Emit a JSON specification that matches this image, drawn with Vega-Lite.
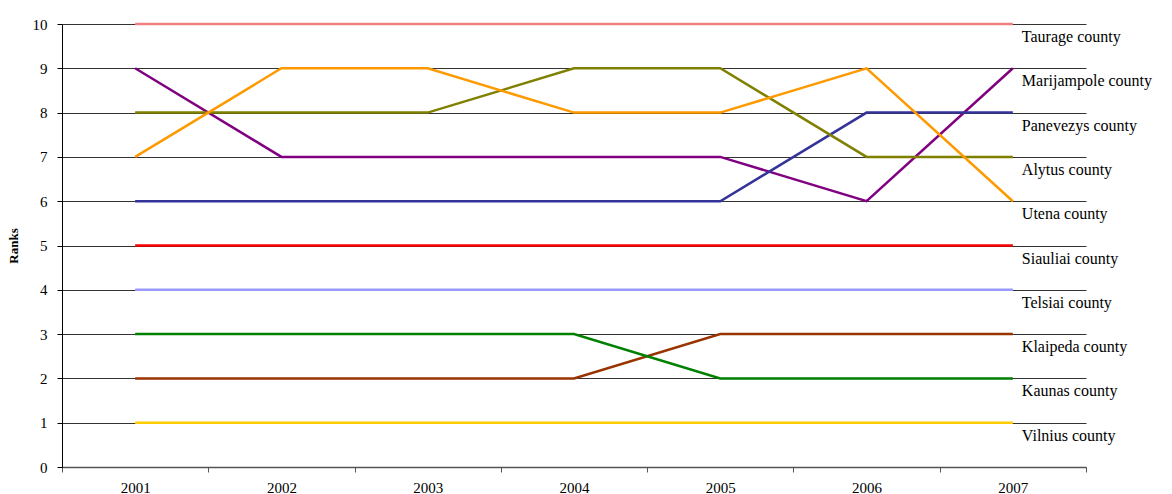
{
  "$schema": "https://vega.github.io/schema/vega-lite/v6.json",
  "autosize": "none",
  "width": 1024,
  "height": 443,
  "padding": {"left": 62, "top": 24, "right": 86, "bottom": 27},
  "background": "white",
  "config": {
    "view": {"stroke": null},
    "font": "Liberation Serif"
  },
  "data": {
    "values": [
      {"county": "Taurage county", "year": "2001", "rank": 10},
      {"county": "Taurage county", "year": "2002", "rank": 10},
      {"county": "Taurage county", "year": "2003", "rank": 10},
      {"county": "Taurage county", "year": "2004", "rank": 10},
      {"county": "Taurage county", "year": "2005", "rank": 10},
      {"county": "Taurage county", "year": "2006", "rank": 10},
      {"county": "Taurage county", "year": "2007", "rank": 10},
      {"county": "Marijampole county", "year": "2001", "rank": 9},
      {"county": "Marijampole county", "year": "2002", "rank": 7},
      {"county": "Marijampole county", "year": "2003", "rank": 7},
      {"county": "Marijampole county", "year": "2004", "rank": 7},
      {"county": "Marijampole county", "year": "2005", "rank": 7},
      {"county": "Marijampole county", "year": "2006", "rank": 6},
      {"county": "Marijampole county", "year": "2007", "rank": 9},
      {"county": "Panevezys county", "year": "2001", "rank": 6},
      {"county": "Panevezys county", "year": "2002", "rank": 6},
      {"county": "Panevezys county", "year": "2003", "rank": 6},
      {"county": "Panevezys county", "year": "2004", "rank": 6},
      {"county": "Panevezys county", "year": "2005", "rank": 6},
      {"county": "Panevezys county", "year": "2006", "rank": 8},
      {"county": "Panevezys county", "year": "2007", "rank": 8},
      {"county": "Alytus county", "year": "2001", "rank": 8},
      {"county": "Alytus county", "year": "2002", "rank": 8},
      {"county": "Alytus county", "year": "2003", "rank": 8},
      {"county": "Alytus county", "year": "2004", "rank": 9},
      {"county": "Alytus county", "year": "2005", "rank": 9},
      {"county": "Alytus county", "year": "2006", "rank": 7},
      {"county": "Alytus county", "year": "2007", "rank": 7},
      {"county": "Utena county", "year": "2001", "rank": 7},
      {"county": "Utena county", "year": "2002", "rank": 9},
      {"county": "Utena county", "year": "2003", "rank": 9},
      {"county": "Utena county", "year": "2004", "rank": 8},
      {"county": "Utena county", "year": "2005", "rank": 8},
      {"county": "Utena county", "year": "2006", "rank": 9},
      {"county": "Utena county", "year": "2007", "rank": 6},
      {"county": "Siauliai county", "year": "2001", "rank": 5},
      {"county": "Siauliai county", "year": "2002", "rank": 5},
      {"county": "Siauliai county", "year": "2003", "rank": 5},
      {"county": "Siauliai county", "year": "2004", "rank": 5},
      {"county": "Siauliai county", "year": "2005", "rank": 5},
      {"county": "Siauliai county", "year": "2006", "rank": 5},
      {"county": "Siauliai county", "year": "2007", "rank": 5},
      {"county": "Telsiai county", "year": "2001", "rank": 4},
      {"county": "Telsiai county", "year": "2002", "rank": 4},
      {"county": "Telsiai county", "year": "2003", "rank": 4},
      {"county": "Telsiai county", "year": "2004", "rank": 4},
      {"county": "Telsiai county", "year": "2005", "rank": 4},
      {"county": "Telsiai county", "year": "2006", "rank": 4},
      {"county": "Telsiai county", "year": "2007", "rank": 4},
      {"county": "Klaipeda county", "year": "2001", "rank": 2},
      {"county": "Klaipeda county", "year": "2002", "rank": 2},
      {"county": "Klaipeda county", "year": "2003", "rank": 2},
      {"county": "Klaipeda county", "year": "2004", "rank": 2},
      {"county": "Klaipeda county", "year": "2005", "rank": 3},
      {"county": "Klaipeda county", "year": "2006", "rank": 3},
      {"county": "Klaipeda county", "year": "2007", "rank": 3},
      {"county": "Kaunas county", "year": "2001", "rank": 3},
      {"county": "Kaunas county", "year": "2002", "rank": 3},
      {"county": "Kaunas county", "year": "2003", "rank": 3},
      {"county": "Kaunas county", "year": "2004", "rank": 3},
      {"county": "Kaunas county", "year": "2005", "rank": 2},
      {"county": "Kaunas county", "year": "2006", "rank": 2},
      {"county": "Kaunas county", "year": "2007", "rank": 2},
      {"county": "Vilnius county", "year": "2001", "rank": 1},
      {"county": "Vilnius county", "year": "2002", "rank": 1},
      {"county": "Vilnius county", "year": "2003", "rank": 1},
      {"county": "Vilnius county", "year": "2004", "rank": 1},
      {"county": "Vilnius county", "year": "2005", "rank": 1},
      {"county": "Vilnius county", "year": "2006", "rank": 1},
      {"county": "Vilnius county", "year": "2007", "rank": 1}
    ]
  },
  "encoding": {
    "x": {
      "field": "year", "type": "ordinal", "bandPosition": 0.5,
      "scale": {"type": "band", "paddingInner": 0, "paddingOuter": 0},
      "axis": {
        "title": null, "labelAngle": 0, "tickBand": "extent", "grid": false,
        "domainColor": "#555", "tickColor": "#555", "tickSize": 5, "domainWidth": 1.5,
        "labelFont": "Liberation Serif", "labelFontSize": 15, "labelColor": "#000", "labelPadding": 8
      }
    },
    "y": {
      "field": "rank", "type": "quantitative",
      "scale": {"domain": [0, 10], "nice": false},
      "axis": {
        "title": "Ranks", "titleFont": "Liberation Serif", "titleFontSize": 13, "titleFontWeight": "bold",
        "titleColor": "#000", "titlePadding": 12,
        "values": [0, 1, 2, 3, 4, 5, 6, 7, 8, 9, 10], "grid": true, "gridColor": "#333", "gridWidth": 1,
        "domainColor": "#000", "tickColor": "#000", "tickSize": 5,
        "labelFont": "Liberation Serif", "labelFontSize": 15, "labelColor": "#000", "labelPadding": 10
      }
    },
    "color": {
      "field": "county", "type": "nominal", "legend": null,
      "scale": {
        "domain": ["Taurage county", "Marijampole county", "Panevezys county", "Alytus county", "Utena county", "Siauliai county", "Telsiai county", "Klaipeda county", "Kaunas county", "Vilnius county"],
        "range": ["#F08080", "#800080", "#333399", "#808000", "#FF9900", "#FF0000", "#9999FF", "#993300", "#008000", "#FFCC00"]
      }
    }
  },
  "layer": [
    {
      "mark": {"type": "line", "strokeWidth": 2.5},
      "encoding": {"detail": {"field": "county"}}
    },
    {
      "transform": [{"filter": "datum.year == '2007'"}],
      "mark": {"type": "text", "align": "left", "baseline": "middle", "dx": 9, "dy": 13, "fontSize": 16, "font": "Liberation Serif", "color": "#000"},
      "encoding": {
        "text": {"field": "county"},
        "color": {"value": "#000"}
      }
    }
  ]
}
